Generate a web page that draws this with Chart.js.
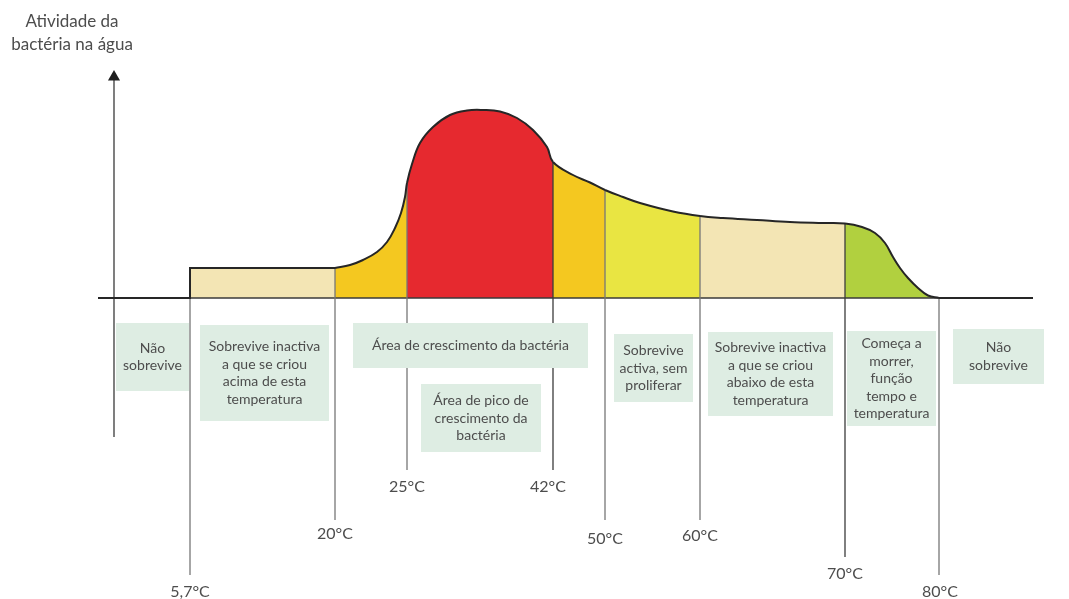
<!DOCTYPE html>
<html>
<head>
<meta charset="utf-8">
<script src="https://cdn.jsdelivr.net/npm/chart.js@4"></script>
<style>
  html, body { margin: 0; padding: 0; background: #fff; }
  #wrap { width: 1069px; height: 599px; }
</style>
</head>
<body>
<div id="wrap"><canvas id="chart"></canvas></div>
<script>
// --- data (diagram units: x along the axis, y = bacterial activity) ---
const titleLines = ['Atividade da', 'bactéria na água'];
const tempLabels = ['5,7°C', '20°C', '25°C', '42°C', '50°C', '60°C', '70°C', '80°C'];
const tempPos = [19.0, 33.5, 40.7, 55.3, 60.5, 70.0, 84.5, 93.9];

const stepX = [9.8, 19.0, 19.0, 33.5];
const stepY = [0, 0, 3.0, 3.0];

const curveX = [33.5, 35.0, 36.3, 37.7, 38.7, 39.5, 40.1, 40.5, 40.7,
                41.2, 42.0, 43.3, 45.0, 46.7, 48.3, 50.0, 51.7, 53.3, 54.7, 55.3,
                57.3, 59.0, 60.5, 62.3, 64.0, 67.3, 70.0, 72.3, 75.7, 79.0, 82.3, 84.5,
                86.2, 87.5, 88.5, 89.3, 90.0, 90.8, 91.8, 92.8, 93.9];
const curveY = [3.0, 3.3, 3.8, 4.6, 5.6, 7.0, 8.5, 10.1, 11.5,
                13.4, 15.5, 17.1, 18.3, 18.75, 18.8, 18.65, 18.0, 16.8, 15.1, 13.6,
                12.3, 11.55, 10.8, 10.1, 9.5, 8.65, 8.2, 8.0, 7.8, 7.6, 7.5, 7.45,
                7.1, 6.5, 5.5, 4.1, 3.0, 2.0, 1.0, 0.25, 0];

const tailX = [93.9, 103.3];
const baseX = [9.8, 103.3];

const noteTexts = [
  ['Não', 'sobrevive'],
  ['Sobrevive inactiva', 'a que se criou', 'acima de esta', 'temperatura'],
  ['Área de crescimento da bactéria'],
  ['Área de pico de', 'crescimento da', 'bactéria'],
  ['Sobrevive', 'activa, sem', 'proliferar'],
  ['Sobrevive inactiva', 'a que se criou', 'abaixo de esta', 'temperatura'],
  ['Começa a', 'morrer,', 'função', 'tempo e', 'temperatura'],
  ['Não', 'sobrevive']
];

// --- layout / style ---
const zoneColors = ['#f4c820', '#e6292f', '#f4c820', '#e9e542', '#f3e5b4', '#b1d03f'];
const creamColor = '#f3e5b4';
const textColor = '#4d4d4d';
const outlineColor = '#262626';
const dividerColors = ['#777', '#777', '#777', '#3c3c3c', '#777', '#777', '#3c3c3c', '#777'];
const dividerBottom = [-27.7, -22.2, -17.2, -17.2, -22.2, -22.2, -25.9, -27.7];
const tempLabelY = [-29.4, -23.6, -18.9, -18.9, -24.1, -23.8, -27.6, -29.4];
const tempLabelShift = [0, 0, 0, -0.5, 0, 0, 0, 0.1];
const yAxisX = 11.4, yAxisBottom = -13.9, yAxisTop = 22.1;
// boxes: [x0, x1, yTop, yBottom]
const noteBoxes = [
  [11.6, 18.9, -2.5, -9.3],
  [20.0, 32.9, -2.7, -12.3],
  [35.3, 58.8, -2.5, -7.0],
  [42.1, 54.1, -8.6, -15.4],
  [61.4, 69.3, -3.6, -10.4],
  [70.8, 83.3, -3.4, -11.8],
  [84.7, 93.6, -3.3, -12.8],
  [95.3, 104.4, -3.1, -8.6]
];

function zoneColor(x) {
  for (let i = 2; i < 7; i++) {
    if (x < tempPos[i]) return zoneColors[i - 2];
  }
  return zoneColors[5];
}

function dividerTop(i) {
  if (i === 0) return stepY[2];
  const k = curveX.indexOf(tempPos[i]);
  return k >= 0 ? curveY[k] : 0;
}

const pts = (xs, ys) => xs.map((x, i) => ({ x: x, y: ys[i] }));

const dividerSets = tempPos.map((p, i) => ({
  data: [{ x: p, y: dividerTop(i) }, { x: p, y: dividerBottom[i] }],
  borderColor: dividerColors[i],
  borderWidth: 1.3,
  pointRadius: 0,
  fill: false,
  order: 3
}));

const datasets = [
  {
    // baseline
    data: pts(baseX, [0, 0]),
    borderColor: '#3a3a3a',
    borderWidth: 1.6,
    pointRadius: 0,
    fill: false,
    order: 4
  },
  ...dividerSets,
  {
    // y axis with arrow
    data: [{ x: yAxisX, y: yAxisBottom }, { x: yAxisX, y: yAxisTop }],
    borderColor: '#3a3a3a',
    borderWidth: 1.3,
    pointRadius: [0, 7],
    pointStyle: 'triangle',
    pointBackgroundColor: '#1e1e1e',
    pointBorderWidth: 0,
    fill: false,
    order: 2
  },
  {
    // flat survival step
    data: pts(stepX, stepY),
    borderColor: outlineColor,
    borderWidth: 2,
    backgroundColor: creamColor,
    fill: 'origin',
    pointRadius: 0,
    tension: 0,
    order: 1
  },
  {
    // activity curve
    data: pts(curveX, curveY),
    borderColor: outlineColor,
    borderWidth: 2,
    backgroundColor: zoneColors[0],
    fill: 'origin',
    pointRadius: 0,
    tension: 0.4,
    segment: {
      backgroundColor: ctx => zoneColor(ctx.p0.parsed.x)
    },
    order: 1
  },
  {
    data: pts(tailX, [0, 0]),
    borderColor: outlineColor,
    borderWidth: 2,
    pointRadius: 0,
    fill: false,
    order: 1
  }
];

const textPlugin = {
  id: 'diagramText',
  afterDatasetsDraw(chart) {
    const { ctx, scales: { x, y } } = chart;
    ctx.save();
    ctx.textAlign = 'center';
    ctx.textBaseline = 'middle';
    ctx.fillStyle = textColor;

    // axis title
    ctx.font = '17px Lato';
    titleLines.forEach((t, i) => ctx.fillText(t, 72, 22 + i * 23));

    // temperature labels
    ctx.font = '16px Lato';
    tempLabels.forEach((t, i) => {
      ctx.fillText(t, x.getPixelForValue(tempPos[i] + tempLabelShift[i]), y.getPixelForValue(tempLabelY[i]));
    });

    // note boxes
    ctx.font = '14px Lato';
    const lh = 17.5;
    noteTexts.forEach((lines, i) => {
      const [x0, x1, yt, yb] = noteBoxes[i];
      const px0 = x.getPixelForValue(x0), px1 = x.getPixelForValue(x1);
      const py0 = y.getPixelForValue(yt), py1 = y.getPixelForValue(yb);
      ctx.fillStyle = '#deede3';
      ctx.fillRect(px0, py0, px1 - px0, py1 - py0);
      ctx.fillStyle = textColor;
      const cx = (px0 + px1) / 2, cy = (py0 + py1) / 2;
      lines.forEach((t, k) => {
        ctx.fillText(t, cx, cy + (k - (lines.length - 1) / 2) * lh);
      });
    });
    ctx.restore();
  }
};

new Chart(document.getElementById('chart'), {
  type: 'line',
  data: { datasets: datasets },
  options: {
    responsive: true,
    maintainAspectRatio: false,
    animation: false,
    layout: { padding: 0, autoPadding: false },
    plugins: {
      legend: { display: false },
      tooltip: { enabled: false },
      filler: { drawTime: 'beforeDatasetsDraw' }
    },
    scales: {
      x: { type: 'linear', min: 0, max: 106.9, display: false },
      y: { type: 'linear', min: -30.1, max: 29.8, display: false }
    }
  },
  plugins: [textPlugin]
});
</script>
</body>
</html>
